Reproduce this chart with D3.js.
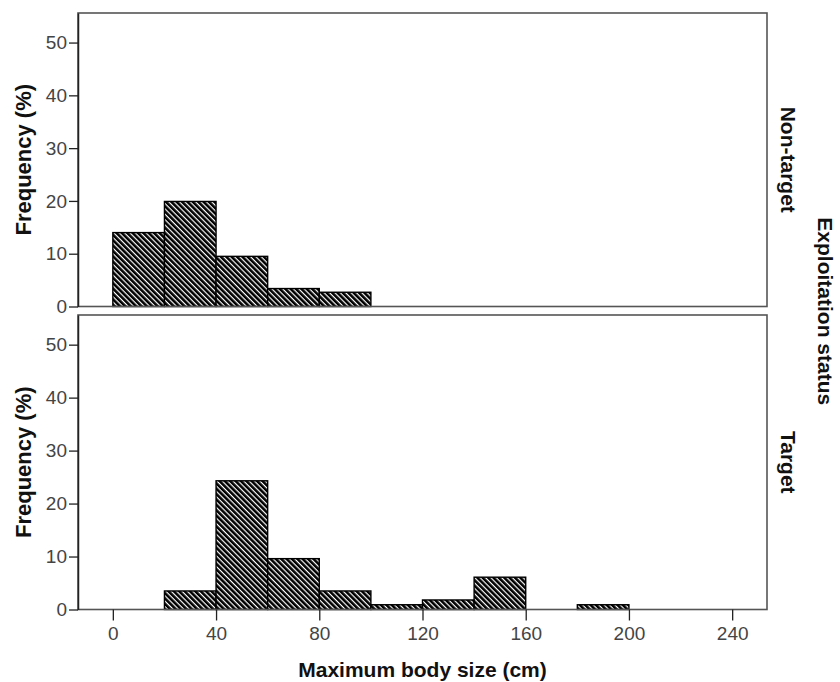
<!DOCTYPE html>
<html>
<head>
<meta charset="utf-8">
<script src="https://cdn.jsdelivr.net/npm/d3@7"></script>
<style>
  html, body { margin: 0; padding: 0; background: #fff; }
  svg { display: block; font-family: "Liberation Sans", Arial, sans-serif; }
</style>
</head>
<body>
<svg id="chart" width="840" height="682"></svg>
<script>
// ---- data ----
const binStarts = [0, 20, 40, 60, 80, 100, 120, 140, 160, 180];
const binWidth = 20;
const nonTarget = [14.0, 19.9, 9.5, 3.4, 2.7, 0, 0, 0, 0, 0];
const target    = [0, 3.5, 24.3, 9.6, 3.5, 0.9, 1.8, 6.1, 0, 0.9];
const panelNames = ["Non-target", "Target"];
const xTicks = [0, 40, 80, 120, 160, 200, 240];
const yTicks = [0, 10, 20, 30, 40, 50];

const svg = d3.select("#chart");

// hatch pattern
const defs = svg.append("defs");
const pat = defs.append("pattern")
  .attr("id", "hatch")
  .attr("patternUnits", "userSpaceOnUse")
  .attr("width", 3.8).attr("height", 3.8)
  .attr("patternTransform", "rotate(-45)");
pat.append("rect").attr("width", 3.8).attr("height", 3.8).attr("fill", "#fff");
pat.append("rect").attr("width", 2.6).attr("height", 3.8).attr("fill", "#000");

const x = d3.scaleLinear().domain([-13.5, 253.5]).range([78, 767]);
const panels = [
  { name: panelNames[0], values: nonTarget, top: 13, bottom: 306.5 },
  { name: panelNames[1], values: target, top: 315, bottom: 609.5 }
];

panels.forEach((p, i) => {
  const y = d3.scaleLinear().domain([0, 55.6]).range([p.bottom, p.top]);
  const g = svg.append("g");

  // bars
  const data = binStarts.map((s, k) => ({ s, v: p.values[k] })).filter(d => d.v > 0);
  g.selectAll("rect.bar").data(data).enter().append("rect")
    .attr("class", "bar")
    .attr("x", d => x(d.s))
    .attr("y", d => y(d.v))
    .attr("width", d => x(d.s + binWidth) - x(d.s))
    .attr("height", d => y(0) - y(d.v))
    .attr("fill", "url(#hatch)")
    .attr("stroke", "#000")
    .attr("stroke-width", 1.4);

  // frame
  g.append("rect")
    .attr("x", x.range()[0]).attr("y", p.top)
    .attr("width", x.range()[1] - x.range()[0])
    .attr("height", p.bottom - p.top)
    .attr("fill", "none").attr("stroke", "#555").attr("stroke-width", 1.6);

  // y axis
  const ya = g.append("g")
    .attr("transform", `translate(${x.range()[0]},0)`)
    .call(d3.axisLeft(y).tickValues(yTicks).tickSizeInner(9).tickSizeOuter(0).tickPadding(2).tickFormat(d3.format("d")));
  ya.select(".domain").attr("stroke", "#222").attr("stroke-width", 1.5);
  ya.selectAll(".tick line").attr("stroke", "#222").attr("stroke-width", 1.3);
  ya.selectAll(".tick text").attr("font-size", 19).attr("fill", "#444")
    .attr("font-family", "Liberation Sans, Arial, sans-serif");

  // y title
  g.append("text")
    .attr("transform", `translate(31,${(p.top + p.bottom) / 2}) rotate(-90)`)
    .attr("text-anchor", "middle")
    .attr("font-weight", "bold").attr("font-size", 22).attr("fill", "#111")
    .text("Frequency (%)");

  // panel label on right
  g.append("text")
    .attr("transform", `translate(781,${(p.top + p.bottom) / 2}) rotate(90)`)
    .attr("text-anchor", "middle")
    .attr("font-weight", "bold").attr("font-size", 21).attr("fill", "#111")
    .text(p.name);

  if (i === 1) {
    const xa = g.append("g")
      .attr("transform", `translate(0,${p.bottom})`)
      .call(d3.axisBottom(x).tickValues(xTicks).tickSizeInner(11).tickSizeOuter(0).tickPadding(6).tickFormat(d3.format("d")));
    xa.select(".domain").remove();
    xa.selectAll(".tick line").attr("stroke", "#222").attr("stroke-width", 1.3);
    xa.selectAll(".tick text").attr("font-size", 19).attr("fill", "#444")
      .attr("font-family", "Liberation Sans, Arial, sans-serif");
  }
});

// x title
svg.append("text")
  .attr("x", (x.range()[0] + x.range()[1]) / 2).attr("y", 677)
  .attr("text-anchor", "middle")
  .attr("font-weight", "bold").attr("font-size", 21).attr("fill", "#111")
  .text("Maximum body size (cm)");

// strip title
svg.append("text")
  .attr("transform", `translate(818,${(13 + 609.5) / 2}) rotate(90)`)
  .attr("text-anchor", "middle")
  .attr("font-weight", "bold").attr("font-size", 21).attr("fill", "#111")
  .text("Exploitation status");
</script>
</body>
</html>
